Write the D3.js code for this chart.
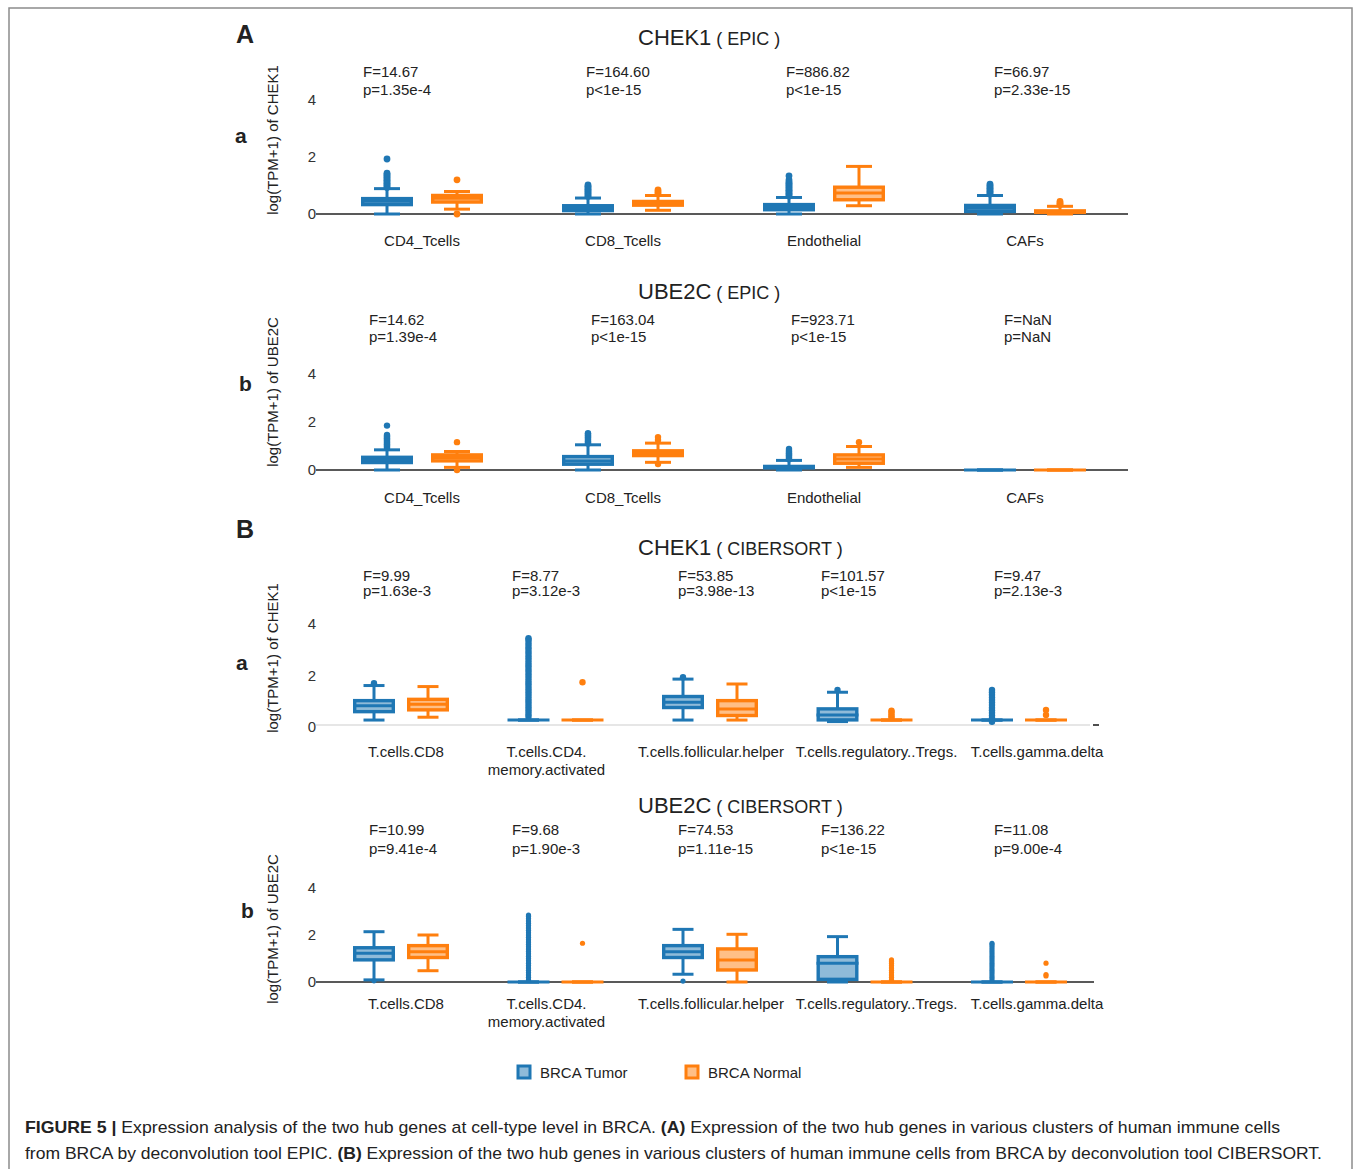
<!DOCTYPE html>
<html lang="en">
<head>
    <meta charset="UTF-8">
    <title>Figure 5 - CHEK1 / UBE2C by cell type</title>
    <style>
        body{ margin:0; background:#fff; }
        svg{ display:block; }
        text{ font-family:"Liberation Sans", Arial, sans-serif; fill:#222; }
        .tick text{ font-size:15px; fill:#333; }
    </style>
    <script src="https://cdnjs.cloudflare.com/ajax/libs/d3/7.8.5/d3.min.js"></script>
</head>
<body>
<script>
// ---- data ----
const groups = ["BRCA Tumor", "BRCA Normal"];
const yTicks = [0, 2, 4];

const epicCells = [["CD4_Tcells"], ["CD8_Tcells"], ["Endothelial"], ["CAFs"]];
const ciberCells = [["T.cells.CD8"], ["T.cells.CD4.", "memory.activated"], ["T.cells.follicular.helper"],
    ["T.cells.regulatory..Tregs."], ["T.cells.gamma.delta"]];

// stats text per cell
const chek1EpicStats = [["F=14.67", "p=1.35e-4"], ["F=164.60", "p<1e-15"], ["F=886.82", "p<1e-15"], ["F=66.97", "p=2.33e-15"]];
const ube2cEpicStats = [["F=14.62", "p=1.39e-4"], ["F=163.04", "p<1e-15"], ["F=923.71", "p<1e-15"], ["F=NaN", "p=NaN"]];
const chek1CiberStats = [["F=9.99", "p=1.63e-3"], ["F=8.77", "p=3.12e-3"], ["F=53.85", "p=3.98e-13"], ["F=101.57", "p<1e-15"], ["F=9.47", "p=2.13e-3"]];
const ube2cCiberStats = [["F=10.99", "p=9.41e-4"], ["F=9.68", "p=1.90e-3"], ["F=74.53", "p=1.11e-15"], ["F=136.22", "p<1e-15"], ["F=11.08", "p=9.00e-4"]];

// boxes: [low whisker, q1, median, q3, high whisker]
const chek1EpicTumor = [[0, 0.27, 0.45, 0.60, 0.89], [0, 0.06, 0.20, 0.35, 0.56], [0, 0.09, 0.24, 0.39, 0.58], [0, 0.03, 0.20, 0.36, 0.65]];
const chek1EpicTumorOut = [[0.93, 0.98, 1.03, 1.08, 1.13, 1.18, 1.23, 1.28, 1.33, 1.38, 1.43, 1.93],
    [0.62, 0.67, 0.72, 0.77, 0.82, 0.87, 0.92, 0.97, 1.02],
    [0.63, 0.68, 0.73, 0.78, 0.83, 0.88, 0.93, 0.98, 1.03, 1.08, 1.13, 1.20, 1.34],
    [0.70, 0.75, 0.80, 0.85, 0.90, 0.95, 1.00, 1.05]];
const chek1EpicNormal = [[0.17, 0.36, 0.55, 0.71, 0.79], [0.13, 0.25, 0.38, 0.50, 0.65], [0.29, 0.44, 0.74, 1.00, 1.67], [0, 0, 0.08, 0.17, 0.27]];
const chek1EpicNormalOut = [[0.0, 1.20], [0.72, 0.78, 0.85], [], [0.33, 0.38, 0.44]];

const ube2cEpicTumor = [[0, 0.24, 0.42, 0.60, 0.84], [0, 0.17, 0.38, 0.63, 1.05], [0, 0.02, 0.12, 0.22, 0.40], [0, 0, 0, 0, 0]];
const ube2cEpicTumorOut = [[0.92, 0.97, 1.02, 1.07, 1.12, 1.17, 1.22, 1.27, 1.32, 1.37, 1.42, 1.46, 1.85],
    [1.10, 1.15, 1.20, 1.25, 1.30, 1.35, 1.40, 1.45, 1.50, 1.53],
    [0.45, 0.50, 0.55, 0.60, 0.65, 0.70, 0.75, 0.80, 0.88],
    []];
const ube2cEpicNormal = [[0.11, 0.31, 0.52, 0.70, 0.77], [0.32, 0.53, 0.70, 0.87, 1.12], [0.11, 0.21, 0.46, 0.70, 0.98], [0, 0, 0, 0, 0]];
const ube2cEpicNormalOut = [[0.0, 1.16], [0.25, 1.25, 1.37], [1.16], []];

const chek1CiberTumor = [[0.27, 0.53, 0.83, 1.09, 1.61], [0.27, 0.27, 0.27, 0.27, 0.27], [0.27, 0.69, 0.96, 1.25, 1.86],
    [0.21, 0.21, 0.47, 0.77, 1.35], [0.27, 0.27, 0.27, 0.27, 0.27]];
const chek1CiberTumorOut = [[1.70],
    [0.4, 0.5, 0.6, 0.7, 0.8, 0.9, 1.0, 1.1, 1.2, 1.3, 1.4, 1.5, 1.6, 1.7, 1.8, 1.9, 2.0, 2.1, 2.2, 2.3, 2.4,
        2.5, 2.6, 2.7, 2.8, 2.9, 3.0, 3.1, 3.2, 3.3, 3.4, 3.45],
    [1.93],
    [1.44],
    [0.2, 0.35, 0.45, 0.55, 0.65, 0.75, 0.85, 0.95, 1.05, 1.15, 1.25, 1.35, 1.44]];
const chek1CiberNormal = [[0.38, 0.60, 0.88, 1.14, 1.57], [0.27, 0.27, 0.27, 0.27, 0.27], [0.27, 0.38, 0.70, 1.09, 1.67],
    [0.27, 0.27, 0.27, 0.27, 0.27], [0.27, 0.27, 0.27, 0.27, 0.27]];
const chek1CiberNormalOut = [[], [1.74], [], [0.35, 0.42, 0.50, 0.58, 0.63], [0.47, 0.66]];

const ube2cCiberTumor = [[0.09, 0.87, 1.22, 1.53, 2.14], [0, 0, 0, 0, 0], [0.33, 0.97, 1.29, 1.62, 2.24],
    [0, 0.04, 0.80, 1.15, 1.93], [0, 0, 0, 0, 0]];
const ube2cCiberTumorOut = [[0.05],
    [0.1, 0.2, 0.3, 0.4, 0.5, 0.6, 0.7, 0.8, 0.9, 1.0, 1.1, 1.2, 1.3, 1.4, 1.5, 1.6, 1.7, 1.8, 1.9, 2.0,
        2.1, 2.2, 2.3, 2.4, 2.5, 2.6, 2.7, 2.8, 2.85],
    [0.04],
    [],
    [0.1, 0.2, 0.3, 0.4, 0.5, 0.6, 0.7, 0.8, 0.9, 1.0, 1.1, 1.2, 1.3, 1.4, 1.5, 1.58, 1.65]];
const ube2cCiberNormal = [[0.48, 0.97, 1.29, 1.62, 2.00], [0, 0, 0, 0, 0], [0, 0.44, 0.94, 1.48, 2.03],
    [0, 0, 0, 0, 0], [0, 0, 0, 0, 0]];
const ube2cCiberNormalOut = [[], [1.65], [], [0.1, 0.2, 0.3, 0.4, 0.5, 0.6, 0.7, 0.8, 0.87, 0.94], [0.26, 0.32, 0.80]];

// ---- drawing ----
const width = 1355, height = 1169;
const colors = ["#1f77b4", "#ff7f0e"];
const fills = ["#8fbbd9", "#ffbf86"];
const sw = 3.4;   // box line width

const svg = d3.select("body").append("svg")
    .attr("width", width).attr("height", height);

// frame
svg.append("rect")
    .attr("x", 9).attr("y", 8).attr("width", 1343).attr("height", 1200)
    .attr("fill", "none").attr("stroke", "#8c8c8c").attr("stroke-width", 1.5);

const panels = [
    {gene: "CHEK1", tool: "EPIC", ylab: "log(TPM+1) of CHEK1", ylabY: 140, letter: "a", letterX: 235, letterY: 143,
        cells: epicCells, stats: chek1EpicStats, tumor: chek1EpicTumor, tumorOut: chek1EpicTumorOut,
        normal: chek1EpicNormal, normalOut: chek1EpicNormalOut,
        y0: 214, y4: 100, xr: [422, 1025], off: 35, bw: 52, lineEnd: 1128, titleY: 45,
        statX: [363, 586, 786, 994], statY: [77, 95], labY: 246, labDx: [0, 0, 0, 0], r: 3.4},
    {gene: "UBE2C", tool: "EPIC", ylab: "log(TPM+1) of UBE2C", ylabY: 392, letter: "b", letterX: 239, letterY: 391,
        cells: epicCells, stats: ube2cEpicStats, tumor: ube2cEpicTumor, tumorOut: ube2cEpicTumorOut,
        normal: ube2cEpicNormal, normalOut: ube2cEpicNormalOut,
        y0: 470, y4: 374, xr: [422, 1025], off: 35, bw: 52, lineEnd: 1128, titleY: 299,
        statX: [369, 591, 791, 1004], statY: [325, 342], labY: 503, labDx: [0, 0, 0, 0], r: 3.2},
    {gene: "CHEK1", tool: "CIBERSORT", ylab: "log(TPM+1) of CHEK1", ylabY: 658, letter: "a", letterX: 236, letterY: 670,
        cells: ciberCells, stats: chek1CiberStats, tumor: chek1CiberTumor, tumorOut: chek1CiberTumorOut,
        normal: chek1CiberNormal, normalOut: chek1CiberNormalOut,
        y0: 727, y4: 624, xr: [401, 1019], off: 27, bw: 42, lineEnd: 1090, titleY: 555, light: true,
        statX: [363, 512, 678, 821, 994], statY: [581, 596], labY: 757, labDx: [5, -9, 1, 12, 18], r: 3.2},
    {gene: "UBE2C", tool: "CIBERSORT", ylab: "log(TPM+1) of UBE2C", ylabY: 929, letter: "b", letterX: 241, letterY: 918,
        cells: ciberCells, stats: ube2cCiberStats, tumor: ube2cCiberTumor, tumorOut: ube2cCiberTumorOut,
        normal: ube2cCiberNormal, normalOut: ube2cCiberNormalOut,
        y0: 982, y4: 888, xr: [401, 1019], off: 27, bw: 42, lineEnd: 1094, titleY: 813,
        statX: [369, 512, 678, 821, 994], statY: [835, 854], labY: 1009, labDx: [5, -9, 1, 12, 18], r: 2.6}
];

// big section letters
svg.append("text").attr("x", 236).attr("y", 43).attr("font-size", 25).attr("font-weight", "bold").text("A");
svg.append("text").attr("x", 236).attr("y", 538).attr("font-size", 25).attr("font-weight", "bold").text("B");

panels.forEach(p => {
    const g = svg.append("g");
    const x = d3.scalePoint().domain(d3.range(p.cells.length)).range(p.xr);
    const y = d3.scaleLinear().domain([0, 4]).range([p.y0, p.y4]);

    // title
    const t = g.append("text").attr("x", 638).attr("y", p.titleY);
    t.append("tspan").attr("font-size", 22).text(p.gene);
    t.append("tspan").attr("font-size", 18).text(" ( " + p.tool + " )");

    // panel letter
    g.append("text").attr("x", p.letterX).attr("y", p.letterY)
        .attr("font-size", 21).attr("font-weight", "bold").text(p.letter);

    // y label
    g.append("text")
        .attr("transform", `translate(272,${p.ylabY}) rotate(-90)`)
        .attr("text-anchor", "middle").attr("dominant-baseline", "central")
        .attr("font-size", 15).text(p.ylab);

    // y axis (labels only)
    g.append("g").attr("transform", "translate(319,0)")
        .call(d3.axisLeft(y).tickValues(yTicks).tickSize(0).tickPadding(3).tickFormat(d3.format("d")))
        .call(a => a.select(".domain").remove());

    // zero line
    const zy = p.light ? y(0) - 2 : y(0);
    g.append("line")
        .attr("x1", 316).attr("x2", p.lineEnd).attr("y1", zy).attr("y2", zy)
        .attr("stroke", p.light ? "#e6e6e6" : "#222").attr("stroke-width", p.light ? 2 : 1.6);
    if (p.light) {
        g.append("line").attr("x1", 1093).attr("x2", 1099)
            .attr("y1", zy).attr("y2", zy).attr("stroke", "#222").attr("stroke-width", 1.6);
    }

    // stats
    p.stats.forEach((s, i) => {
        s.forEach((line, j) => {
            g.append("text").attr("x", p.statX[i]).attr("y", p.statY[j])
                .attr("font-size", 15).text(line);
        });
    });

    // category labels
    p.cells.forEach((lines, i) => {
        lines.forEach((line, j) => {
            g.append("text").attr("x", x(i) + p.labDx[i]).attr("y", p.labY + j * 18)
                .attr("text-anchor", "middle").attr("font-size", 15).text(line);
        });
    });

    // boxes
    const series = [
        {boxes: p.tumor, outs: p.tumorOut, k: 0, dir: -1},
        {boxes: p.normal, outs: p.normalOut, k: 1, dir: 1}
    ];
    series.forEach(s => {
        s.boxes.forEach((b, i) => {
            const cx = x(i) + s.dir * p.off;
            const [lo, q1, med, q3, hi] = b;
            const col = colors[s.k];
            const bg = g.append("g");
            bg.append("line").attr("x1", cx).attr("x2", cx).attr("y1", y(lo)).attr("y2", y(hi))
                .attr("stroke", col).attr("stroke-width", 3);
            [lo, hi].forEach(v => {
                bg.append("line").attr("x1", cx - p.bw / 4).attr("x2", cx + p.bw / 4)
                    .attr("y1", y(v)).attr("y2", y(v)).attr("stroke", col).attr("stroke-width", 3);
            });
            // box edges read as outer edges, so the stroke sits inside them
            const h = y(q1) - y(q3);
            const top = h > sw ? y(q3) + sw / 2 : (y(q1) + y(q3)) / 2;
            bg.append("rect")
                .attr("x", cx - p.bw / 2 + sw / 2).attr("y", top)
                .attr("width", p.bw - sw).attr("height", h > sw ? h - sw : 0)
                .attr("fill", fills[s.k]).attr("stroke", col).attr("stroke-width", sw);
            bg.append("line").attr("x1", cx - p.bw / 2).attr("x2", cx + p.bw / 2)
                .attr("y1", y(med)).attr("y2", y(med)).attr("stroke", col).attr("stroke-width", 3);
            bg.selectAll("circle").data(s.outs[i]).join("circle")
                .attr("cx", cx).attr("cy", d => y(d)).attr("r", p.r).attr("fill", col);
        });
    });
});

// legend
const legend = svg.append("g").selectAll("g").data(groups).join("g")
    .attr("transform", (d, i) => `translate(${[518, 686][i]},1066)`);
legend.append("rect").attr("width", 12).attr("height", 12)
    .attr("fill", (d, i) => fills[i]).attr("stroke", (d, i) => colors[i]).attr("stroke-width", 3);
legend.append("text").attr("x", 22).attr("y", 12).attr("font-size", 15).text(d => d);

// caption
const cap1 = svg.append("text").attr("x", 25).attr("y", 1133).attr("font-size", 17)
    .attr("textLength", 1255).attr("lengthAdjust", "spacingAndGlyphs");
cap1.append("tspan").attr("font-weight", "bold").text("FIGURE 5 | ");
cap1.append("tspan").text("Expression analysis of the two hub genes at cell-type level in BRCA. ");
cap1.append("tspan").attr("font-weight", "bold").text("(A)");
cap1.append("tspan").text(" Expression of the two hub genes in various clusters of human immune cells");

const cap2 = svg.append("text").attr("x", 25).attr("y", 1159).attr("font-size", 17)
    .attr("textLength", 1297).attr("lengthAdjust", "spacingAndGlyphs");
cap2.append("tspan").text("from BRCA by deconvolution tool EPIC. ");
cap2.append("tspan").attr("font-weight", "bold").text("(B)");
cap2.append("tspan").text(" Expression of the two hub genes in various clusters of human immune cells from BRCA by deconvolution tool CIBERSORT.");
</script>
</body>
</html>
